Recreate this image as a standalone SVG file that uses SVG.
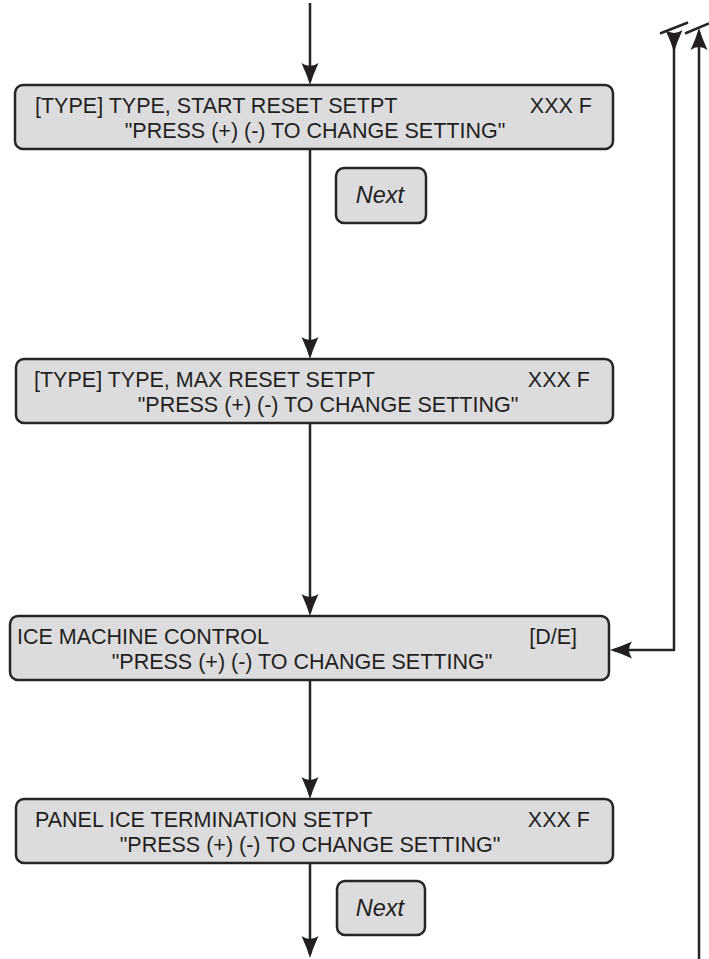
<svg xmlns="http://www.w3.org/2000/svg" xmlns:xlink="http://www.w3.org/1999/xlink" width="709" height="959" viewBox="0 0 709 959">
<style>
.box{fill:#dcdcde;stroke:#262425;stroke-width:2.5}
.t{font-family:"Liberation Sans",Arial,sans-serif;font-size:21.5px;fill:#231f20}
.n{font-family:"Liberation Sans",Arial,sans-serif;font-size:23.5px;font-style:italic;fill:#231f20;text-anchor:middle}
.e{text-anchor:end}
.c{text-anchor:middle}
.ln{fill:none;stroke:#262425;stroke-width:2.5}
.hd{fill:#231f20}
</style>
<defs>
<marker id="arr" viewBox="-20 -10 25 20" refX="0" refY="0" markerWidth="25" markerHeight="20" markerUnits="userSpaceOnUse" orient="auto">
<path d="M4,0 Q-6,-3 -18,-8.5 Q-12,0 -18,8.5 Q-6,3 4,0 Z" fill="#231f20"/>
</marker>
<path id="dn" d="M0,0 Q-3,-10 -8.5,-22 Q0,-16 8.5,-22 Q3,-10 0,0 Z"/>
</defs>

<g id="connectors">
<path class="ln" d="M310,3 V81" marker-end="url(#arr)"/>
<path class="ln" d="M310,149 V355" marker-end="url(#arr)"/>
<path class="ln" d="M310,423 V612" marker-end="url(#arr)"/>
<path class="ln" d="M310,680 V795" marker-end="url(#arr)"/>
<path class="ln" d="M310,863 V954" marker-end="url(#arr)"/>
<path class="ln" d="M674,33 V650 H614" marker-end="url(#arr)"/>
<use class="hd" xlink:href="#dn" transform="translate(674,52)"/>
<path class="ln" d="M699,959 V32" marker-end="url(#arr)"/>
<path class="ln" d="M660,33.5 L688,22.5" stroke-width="1.5"/>
<path class="ln" d="M685,33.5 L709,23.5" stroke-width="1.5"/>
</g>

<g id="box1">
<rect class="box" x="15" y="85" width="598" height="64" rx="8"/>
<text class="t" x="35" y="113">[TYPE] TYPE, START RESET SETPT</text>
<text class="t e" x="592" y="113">XXX F</text>
<text class="t c" x="315" y="138">"PRESS (+) (-) TO CHANGE SETTING"</text>
</g>

<g id="next1">
<rect class="box" x="336" y="168" width="90" height="55" rx="8"/>
<text class="n" x="380" y="203">Next</text>
</g>

<g id="box2">
<rect class="box" x="16" y="359" width="597" height="64" rx="8"/>
<text class="t" x="34" y="387">[TYPE] TYPE, MAX RESET SETPT</text>
<text class="t e" x="590" y="387">XXX F</text>
<text class="t c" x="328" y="412">"PRESS (+) (-) TO CHANGE SETTING"</text>
</g>

<g id="box3">
<rect class="box" x="10" y="616" width="599" height="64" rx="8"/>
<text class="t" x="17" y="644">ICE MACHINE CONTROL</text>
<text class="t e" x="577" y="644">[D/E]</text>
<text class="t c" x="302" y="669">"PRESS (+) (-) TO CHANGE SETTING"</text>
</g>

<g id="box4">
<rect class="box" x="16" y="799" width="597" height="64" rx="8"/>
<text class="t" x="35" y="827">PANEL ICE TERMINATION SETPT</text>
<text class="t e" x="590" y="827">XXX F</text>
<text class="t c" x="310" y="852">"PRESS (+) (-) TO CHANGE SETTING"</text>
</g>

<g id="next2">
<rect class="box" x="337" y="881" width="88" height="54" rx="8"/>
<text class="n" x="380" y="916">Next</text>
</g>
</svg>
